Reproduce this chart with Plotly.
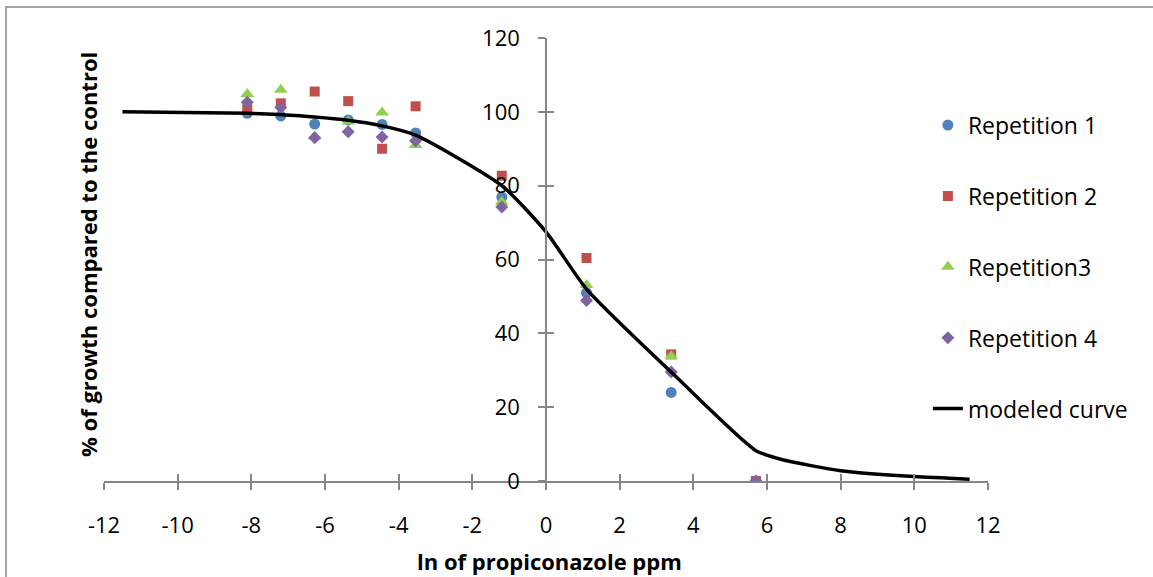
import plotly.graph_objects as go

# ln of propiconazole concentration (ppm)
ln_ppm = [-8.11, -7.20, -6.28, -5.37, -4.45, -3.54, -1.20, 1.10, 3.40, 5.70]

rep1 = [99.6, 98.9, 96.7, 97.8, 96.6, 94.3, 76.9, 51.0, 24.0, 0.0]
rep2 = [100.7, 102.3, 105.5, 102.9, 90.0, 101.5, 82.7, 60.4, 34.3, 0.0]
rep3 = [104.8, 106.0, 93.3, 97.4, 99.8, 91.0, 75.6, 53.1, 33.8, 0.0]
rep4 = [102.6, 101.2, 93.0, 94.6, 93.2, 92.2, 74.2, 48.9, 29.5, 0.0]

curve_x = [-11.5, -8.11, -7.20, -6.28, -5.37, -4.45, -3.54, -1.20, 0.0, 1.10, 3.40, 5.70, 6.45, 8.0, 10.0, 11.5]
curve_y = [100.0, 99.6, 99.2, 98.6, 97.7, 96.2, 93.7, 80.0, 67.5, 52.0, 29.5, 8.2, 5.7, 2.8, 1.2, 0.5]

x_ticks = [-12, -10, -8, -6, -4, -2, 0, 2, 4, 6, 8, 10, 12]
x_tick_labels = ["-12", "-10", "-8", "-6", "-4", "-2", "0", "2", "4", "6", "8", "10", "12"]
y_ticks = [0, 20, 40, 60, 80, 100, 120]
y_tick_labels = ["0", "20", "40", "60", "80", "100", "120"]

FONT = "Open Sans"
AX = "#868686"

fig = go.Figure()

series = [
    ("Repetition 1", rep1, "circle", "#4F81BD", 11),
    ("Repetition 2", rep2, "square", "#C0504D", 10),
    ("Repetition3", rep3, "triangle-up", "#92CF50", 12),
    ("Repetition 4", rep4, "diamond", "#8064A2", 10),
]
for name, ys, sym, col, sz in series:
    fig.add_trace(go.Scatter(
        x=ln_ppm, y=ys, mode="markers", name=name, legendgroup=name,
        marker=dict(symbol=sym, color=col, size=sz, line=dict(width=0)),
    ))

fig.add_trace(go.Scatter(
    x=curve_x, y=curve_y, mode="lines", name="modeled curve", legendgroup="curve",
    line=dict(color="black", width=3.5, shape="spline", smoothing=0.6),
))

# dummy trace on overlay axes (for crossing tick marks)
fig.add_trace(go.Scatter(x=[None], y=[None], xaxis="x2", yaxis="y2",
                         showlegend=False, hoverinfo="skip"))

common_x = dict(range=[-12, 12], tickvals=x_ticks, showgrid=False, zeroline=False,
                ticklen=7, tickwidth=1.5, tickcolor=AX, fixedrange=True)
common_y = dict(range=[0, 120], tickvals=y_ticks, showgrid=False, zeroline=False,
                ticklen=7, tickwidth=1.5, tickcolor=AX, fixedrange=True)

fig.update_layout(
    width=1153, height=577,
    margin=dict(l=104, r=165, t=38, b=96),
    paper_bgcolor="white", plot_bgcolor="white",
    font=dict(family=FONT, size=22, color="black"),
    xaxis=dict(**common_x, ticktext=x_tick_labels, ticks="outside", showline=True,
               linecolor=AX, linewidth=1.5, ticklabelstandoff=17, tickfont=dict(size=22)),
    xaxis2=dict(**common_x, ticks="inside", overlaying="x", anchor="y2",
                showticklabels=False, showline=False),
    yaxis=dict(**common_y, ticktext=y_tick_labels, ticks="outside", anchor="free",
               position=0.5, side="left", showline=True, linecolor=AX, linewidth=1.5,
               ticklabelstandoff=14, tickfont=dict(size=22)),
    yaxis2=dict(**common_y, ticks="inside", overlaying="y", anchor="free", position=0.5,
                side="left", showticklabels=False, showline=False),
    legend=dict(x=0.932, y=0.852, xanchor="left", yanchor="top",
                tracegroupgap=38, font=dict(size=23), bgcolor="rgba(0,0,0,0)"),
    showlegend=True,
    annotations=[
        dict(text="<b>ln of propiconazole ppm</b>", xref="paper", yref="paper",
             x=(549 - 104) / 884, y=(481 - 561) / 443, xanchor="center", yanchor="middle",
             showarrow=False, font=dict(size=22)),
        dict(text="<b>% of growth compared to the control</b>", xref="paper", yref="paper",
             x=(88 - 104) / 884, y=(481 - 255) / 443, xanchor="center", yanchor="middle",
             textangle=-90, showarrow=False, font=dict(size=22)),
    ],
    shapes=[
        dict(type="rect", xref="paper", yref="paper",
             x0=(6 - 104) / 884, x1=(1170 - 104) / 884,
             y0=(481 - 590) / 443, y1=(481 - 7) / 443,
             line=dict(color="#898989", width=1.5), fillcolor="rgba(0,0,0,0)", layer="below"),
    ],
)

fig.write_html("out.html", config={"displayModeBar": False},
               post_script="document.body.style.margin='0';document.body.style.overflow='hidden';")
